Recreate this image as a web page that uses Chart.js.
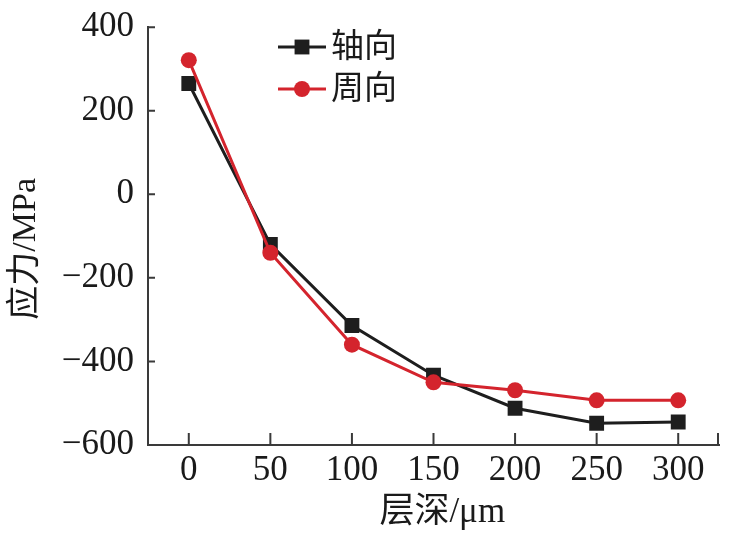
<!DOCTYPE html>
<html>
<head>
<meta charset="utf-8">
<script src="https://cdn.jsdelivr.net/npm/chart.js@4.4.0/dist/chart.umd.min.js"></script>
<style>
    html, body { margin: 0; padding: 0; background: #fff; }
    #wrap { width: 736px; height: 534px; }
</style>
</head>
<body>
<div id="wrap"><canvas id="grafico"></canvas></div>
<script>
// dados
const profundidades = [0, 50, 100, 150, 200, 250, 300];
const tensaoAxial = [265, -120, -314, -433, -512, -548, -545];
const tensaoCircunferencial = [321, -140, -360, -450, -469, -493, -493];
const ticksX = [0, 50, 100, 150, 200, 250, 300];
const ticksY = [-600, -400, -200, 0, 200, 400];

const SERIF = "'Liberation Serif', 'Noto Sans CJK SC', serif";
const COR_EIXO = '#3a3a3a';

// legenda desenhada dentro da área do gráfico (vertical, como no original)
const legendaInterna = {
    id: 'legendaInterna',
    afterDraw(chart) {
        const ctx = chart.ctx;
        const x0 = 278, x1 = 326, ys = [47, 89];
        chart.data.datasets.forEach((ds, i) => {
            const y = ys[i];
            ctx.save();
            ctx.strokeStyle = ds.borderColor;
            ctx.lineWidth = ds.borderWidth;
            ctx.beginPath();
            ctx.moveTo(x0, y);
            ctx.lineTo(x1, y);
            ctx.stroke();
            ctx.fillStyle = ds.pointBackgroundColor;
            Chart.helpers.drawPoint(ctx, { pointStyle: ds.pointStyle, radius: ds.pointRadius, borderWidth: 0 }, (x0 + x1) / 2, y);
            ctx.fillStyle = '#1a1a1a';
            ctx.font = "33px " + SERIF;
            ctx.textBaseline = 'middle';
            ctx.fillText(ds.label, 331, y + 1);
            ctx.restore();
        });
    }
};

// marcas dos eixos voltadas para dentro
const marcasInternas = {
    id: 'marcasInternas',
    afterDatasetsDraw(chart) {
        const ctx = chart.ctx;
        const sx = chart.scales.x, sy = chart.scales.y;
        const area = chart.chartArea;
        ctx.save();
        ctx.strokeStyle = COR_EIXO;
        ctx.lineWidth = 2;
        ctx.beginPath();
        ticksX.forEach(v => {
            const px = sx.getPixelForValue(v);
            ctx.moveTo(px, area.bottom);
            ctx.lineTo(px, area.bottom - 12);
        });
        ctx.moveTo(area.right - 1, area.bottom);
        ctx.lineTo(area.right - 1, area.bottom - 12);
        ticksY.forEach(v => {
            const py = sy.getPixelForValue(v);
            ctx.moveTo(area.left, py);
            ctx.lineTo(area.left + 7, py);
        });
        ctx.stroke();
        ctx.restore();
    }
};

new Chart(document.getElementById('grafico'), {
    type: 'line',
    data: {
        datasets: [
            {
                label: '轴向',
                data: profundidades.map((x, i) => ({ x: x, y: tensaoAxial[i] })),
                borderColor: '#1e1e1e',
                backgroundColor: '#1e1e1e',
                pointBackgroundColor: '#1e1e1e',
                pointBorderWidth: 0,
                borderWidth: 3,
                pointStyle: 'rect',
                pointRadius: 10.5,
                tension: 0,
                order: 1
            },
            {
                label: '周向',
                data: profundidades.map((x, i) => ({ x: x, y: tensaoCircunferencial[i] })),
                borderColor: '#d4242d',
                backgroundColor: '#d4242d',
                pointBackgroundColor: '#d4242d',
                pointBorderWidth: 0,
                borderWidth: 3,
                pointStyle: 'circle',
                pointRadius: 8,
                tension: 0,
                order: 0
            }
        ]
    },
    options: {
        responsive: true,
        maintainAspectRatio: false,
        animation: false,
        layout: { padding: { top: 0, right: 17, left: 0, bottom: 0 } },
        plugins: {
            legend: { display: false },
            tooltip: { enabled: false }
        },
        scales: {
            x: {
                type: 'linear',
                min: -25,
                max: 325,
                afterBuildTicks: (s) => { s.ticks = ticksX.map(v => ({ value: v })); },
                afterFit: (s) => { s.height = 89; },
                grid: { display: false, drawTicks: false },
                border: { display: true, color: COR_EIXO, width: 2 },
                ticks: {
                    color: '#1a1a1a',
                    font: { family: SERIF, size: 35, lineHeight: 1 },
                    padding: 8,
                    maxRotation: 0
                },
                title: {
                    display: true,
                    text: '  层深/μm',
                    color: '#1a1a1a',
                    font: { family: SERIF, size: 35, lineHeight: 1 },
                    padding: { top: 0, bottom: 4 }
                }
            },
            y: {
                min: -600,
                max: 400,
                afterBuildTicks: (s) => { s.ticks = ticksY.map(v => ({ value: v })); },
                afterFit: (s) => { s.width = 148; },
                grid: { display: false, drawTicks: false },
                border: { display: true, color: COR_EIXO, width: 2 },
                ticks: {
                    color: '#1a1a1a',
                    font: { family: SERIF, size: 35, lineHeight: 0.75 },
                    padding: 14,
                    callback: (v) => v < 0 ? '−' + Math.abs(v) : String(v)
                },
                title: {
                    display: true,
                    text: '应力/MPa   ',
                    color: '#1a1a1a',
                    font: { family: SERIF, size: 34, lineHeight: 1 },
                    padding: { top: 9, bottom: 0 }
                }
            }
        }
    },
    plugins: [legendaInterna, marcasInternas]
});
</script>
</body>
</html>
